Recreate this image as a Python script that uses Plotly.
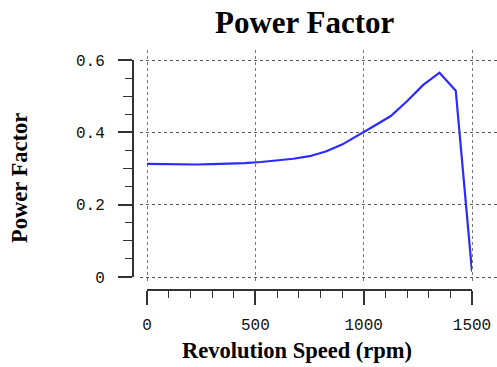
import plotly.graph_objects as go

speed_rpm = [0, 75, 150, 225, 300, 375, 450, 525, 600, 675, 750, 825, 900, 975,
             1050, 1125, 1200, 1275, 1350, 1425, 1500]
power_factor = [0.313, 0.312, 0.311, 0.311, 0.312, 0.313, 0.315, 0.318, 0.322, 0.327,
                0.334, 0.347, 0.366, 0.391, 0.418, 0.445, 0.486, 0.531, 0.565, 0.515, 0.015]
x_ticks = [0, 500, 1000, 1500]
y_ticks = [0, 0.2, 0.4, 0.6]
y_tick_text = ["0", "0.2", "0.4", "0.6"]
y_mid_ticks = [0.1, 0.3, 0.5]

W, H = 497, 367
L, R, T, B = 133, 0, 50, 77
pw, ph = W - L - R, H - T - B

def px_x(p):
    return (p - L) / pw

def px_y(p):
    return (H - B - p) / ph

serif = "Liberation Serif, Times New Roman, serif"
mono = "Liberation Mono, Courier New, monospace"
axis_col = "#333333"

fig = go.Figure()
# grid subplot (invisible trace)
fig.add_trace(go.Scatter(x=[None], y=[None], xaxis="x", yaxis="y", showlegend=False,
                         hoverinfo="skip"))
# medium y ticks axis (invisible trace)
fig.add_trace(go.Scatter(x=[None], y=[None], xaxis="x2", yaxis="y3", showlegend=False,
                         hoverinfo="skip"))
# data subplot
fig.add_trace(go.Scatter(x=speed_rpm, y=power_factor, xaxis="x2", yaxis="y2",
                         mode="lines", line=dict(color="#2b2bff", width=2.2),
                         showlegend=False))

sx = (472 - 147) / 1500
sy = (277 - 60) / 0.6
fig.update_layout(
    width=W, height=H,
    margin=dict(l=L, r=R, t=T, b=B, autoexpand=False),
    showlegend=False,
    paper_bgcolor="white", plot_bgcolor="rgba(0,0,0,0)",
    xaxis=dict(domain=[px_x(140), 1], range=[(140 - 147) / sx, (497 - 147) / sx],
               tickvals=x_ticks, showticklabels=False, ticks="", showline=False,
               showgrid=True, gridcolor="#777777", griddash="dot", gridwidth=1,
               zeroline=False, fixedrange=True, automargin=False),
    yaxis=dict(domain=[px_y(282), 1], range=[(277 - 282) / sy, (277 - 50) / sy],
               tickvals=y_ticks, showticklabels=False, ticks="", showline=False,
               showgrid=True, gridcolor="#555555", griddash="dot", gridwidth=1,
               zeroline=False, fixedrange=True, automargin=False),
    xaxis2=dict(domain=[px_x(147), px_x(472)], range=[0, 1500], anchor="free", position=0,
                tickvals=x_ticks, ticks="outside", ticklen=14, tickwidth=1.5,
                tickcolor=axis_col, showline=True, linecolor=axis_col, linewidth=2,
                showgrid=False, zeroline=False, automargin=False,
                minor=dict(dtick=100, ticks="outside", ticklen=7, tickwidth=1.2,
                           tickcolor=axis_col, showgrid=False),
                tickfont=dict(family=mono, size=16, color="#111"),
                ticklabelstandoff=6),
    yaxis2=dict(domain=[px_y(277), px_y(60)], range=[0, 0.6], anchor="free", position=0,
                tickvals=y_ticks, ticktext=y_tick_text, ticks="outside", ticklen=14,
                tickwidth=1.5, tickcolor=axis_col, showline=True, linecolor=axis_col,
                linewidth=2, showgrid=False, zeroline=False, automargin=False,
                minor=dict(dtick=0.05, ticks="outside", ticklen=7, tickwidth=1.2,
                           tickcolor=axis_col, showgrid=False),
                tickfont=dict(family=mono, size=16, color="#111"),
                ticklabelstandoff=10),
    yaxis3=dict(overlaying="y2", range=[0, 0.6], anchor="free", position=0,
                tickvals=y_mid_ticks, ticks="outside", ticklen=10, tickwidth=1.2,
                tickcolor=axis_col, showticklabels=False, showline=False,
                showgrid=False, zeroline=False, automargin=False),
    annotations=[
        dict(text="<b>Power Factor</b>", xref="paper", yref="paper",
             x=px_x(304.5), y=px_y(23), xanchor="center", yanchor="middle",
             showarrow=False, font=dict(family=serif, size=31, color="black")),
        dict(text="<b>Revolution Speed (rpm)</b>", xref="paper", yref="paper",
             x=px_x(297), y=px_y(350), xanchor="center", yanchor="middle",
             showarrow=False, font=dict(family=serif, size=22.5, color="black")),
        dict(text="<b>Power Factor</b>", xref="paper", yref="paper",
             x=px_x(19), y=px_y(178), xanchor="center", yanchor="middle",
             textangle=-90, showarrow=False,
             font=dict(family=serif, size=22.5, color="black")),
    ],
)

fig.write_html("out.html")
